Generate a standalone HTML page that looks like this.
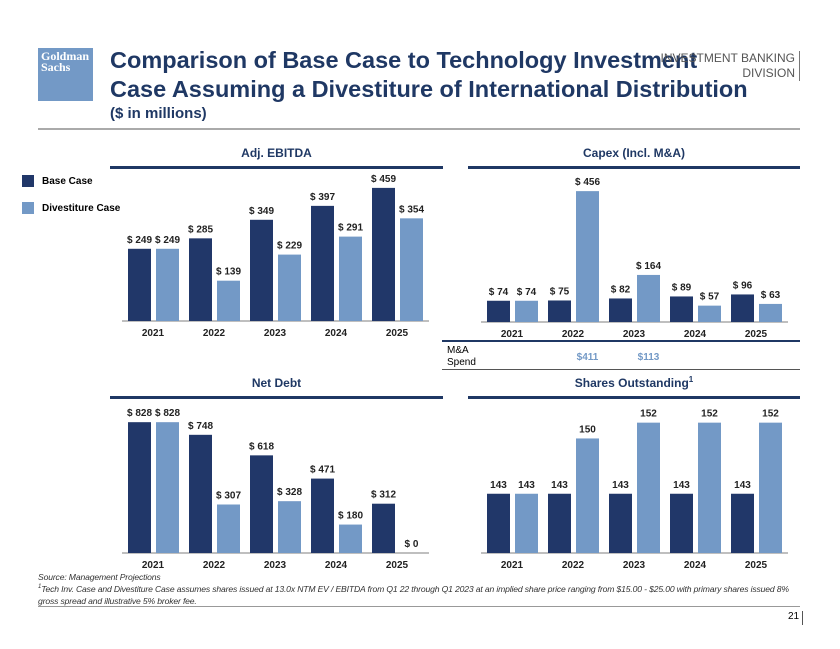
<!DOCTYPE html>
<html><head><meta charset="utf-8"><style>
body{margin:0;width:840px;height:649px;background:#fff;font-family:"Liberation Sans",Arial,sans-serif;position:relative;overflow:hidden}
.a{position:absolute}
</style></head><body>
<div class="a" style="left:38px;top:48px;width:55px;height:53px;background:#7399c6;color:#fff;font-family:'Liberation Serif',serif;font-weight:bold;font-size:12px;line-height:11px;padding:3px 0 0 3px;box-sizing:border-box">Goldman<br>Sachs</div>
<div class="a" style="left:110px;top:46px;font-size:23.5px;font-weight:bold;color:#1f3864;line-height:29px">Comparison of Base Case to Technology Investment<br>Case Assuming a Divestiture of International Distribution</div>
<div class="a" style="left:110px;top:105px;font-size:15px;font-weight:bold;color:#1f3864">($ in millions)</div>
<div class="a" style="right:40px;top:51px;font-size:12px;color:#555;text-align:right;line-height:15px;border-right:1px solid #777;padding-right:4px">INVESTMENT BANKING<br>DIVISION</div>
<div class="a" style="left:38px;top:128px;width:762px;height:2px;background:#aaa"></div>
<div class="a" style="left:22px;top:175px;width:12px;height:12px;background:#213769"></div>
<div class="a" style="left:42px;top:176px;font-size:10px;font-weight:bold">Base Case</div>
<div class="a" style="left:22px;top:202px;width:12px;height:12px;background:#7399c6"></div>
<div class="a" style="left:42px;top:203px;font-size:10px;font-weight:bold">Divestiture Case</div>
<svg class="a" id="svg" style="left:0;top:0" width="840" height="649"></svg>
<div class="a" style="left:447px;top:345px;font-size:10px;line-height:12px">M&amp;A<br>Spend</div>
<div class="a" style="left:38px;top:571px;font-size:8.6px;font-style:italic;color:#333;line-height:12px;width:770px;letter-spacing:-0.15px">Source: Management Projections<br><sup style="font-size:6px;line-height:0">1</sup>Tech Inv. Case and Divestiture Case assumes shares issued at 13.0x NTM EV / EBITDA from Q1 22 through Q1 2023 at an implied share price ranging from $15.00 - $25.00 with primary shares issued 8% gross spread and illustrative 5% broker fee.</div>
<div class="a" style="left:38px;top:606px;width:762px;height:1px;background:#999"></div>
<div class="a" style="left:788px;top:611px;font-size:10px;border-right:1px solid #555;padding-right:3px;height:14px">21</div>
<script>
const years=["2021","2022","2023","2024","2025"];
const ebitdaBase=[249,285,349,397,459];
const ebitdaDiv=[249,139,229,291,354];
const capexBase=[74,75,82,89,96];
const capexDiv=[74,456,164,57,63];
const maSpend=["","$411","$113","",""];
const debtBase=[828,748,618,471,312];
const debtDiv=[828,307,328,180,0];
const sharesBase=[143,143,143,143,143];
const sharesDiv=[143,150,152,152,152];
const NS="http://www.w3.org/2000/svg";
const svg=document.getElementById('svg');
function el(t,a,txt,p){const e=document.createElementNS(NS,t);for(const k in a)e.setAttribute(k,a[k]);if(txt!=null)e.textContent=txt;(p||svg).appendChild(e);return e;}
function chart(o){
  const t=el('text',{x:(o.x0+o.x1)/2,y:o.ty,'text-anchor':'middle','font-size':12,'font-weight':'bold',fill:'#1f3864'},o.title);
  
  
  if(o.sup){el('tspan',{'font-size':8,dy:-5},o.sup,t);}
  const u=el('rect',{x:o.x0,y:o.ty+9,width:o.x1-o.x0,height:3,fill:'#1f3864'});
  
  
  const ax=el('line',{x1:o.bx-6,x2:o.bx+5*61-4,y1:o.base,y2:o.base,stroke:'#aaa','stroke-width':1.5});
  
  
  const ys=v=>o.base-(v-o.min)*o.scale;
  years.forEach((yr,i)=>{
    const gx=o.bx+i*61;
    [[o.b,'#213769',0],[o.d,'#7399c6',28]].forEach(([arr,c,off],k)=>{
      const v=arr[i],y=ys(v);
      const r=el('rect',{x:gx+off,y:y,width:23,height:o.base-y,fill:c});
      
      
      const l=el('text',{x:gx+off+11.5,y:y-6,'text-anchor':'middle','font-size':10,'font-weight':'bold',fill:'#222'},o.fmt(v));
      
      
    });
    const yl=el('text',{x:gx+25,y:o.base+15,'text-anchor':'middle','font-size':10,'font-weight':'bold',fill:'#222'},yr);
    
    
  });
}
const dol=v=>'$ '+v;
chart({name:'ebitda',title:'Adj. EBITDA',x0:110,x1:443,ty:157,bx:128,base:321,scale:0.29,min:0,b:ebitdaBase,d:ebitdaDiv,fmt:dol});
chart({name:'capex',title:'Capex (Incl. M&A)',x0:468,x1:800,ty:157,bx:487,base:322,scale:0.287,min:0,b:capexBase,d:capexDiv,fmt:dol});
chart({name:'net-debt',title:'Net Debt',x0:110,x1:443,ty:387,bx:128,base:553,scale:0.158,min:0,b:debtBase,d:debtDiv,fmt:dol});
chart({name:'shares',title:'Shares Outstanding',sup:'1',x0:468,x1:800,ty:387,bx:487,base:553,scale:7.9,min:135.5,b:sharesBase,d:sharesDiv,fmt:v=>String(v)});
const r1=el('rect',{x:442,y:340,width:358,height:2,fill:'#1f3864'});


const r2=el('rect',{x:442,y:369,width:358,height:1,fill:'#555'});


maSpend.forEach((s,i)=>{if(!s)return;
  const t=el('text',{x:487+i*61+39.5,y:360,'text-anchor':'middle','font-size':10,'font-weight':'bold',fill:'#7399c6'},s);
  
  
});
</script>
</body></html>
